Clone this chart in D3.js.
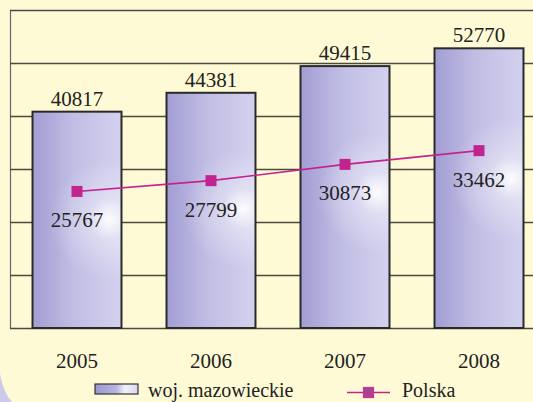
<!DOCTYPE html>
<html><head><meta charset="utf-8">
<script src="https://cdn.jsdelivr.net/npm/d3@7"></script>
<style>html,body{margin:0;padding:0;background:#FEFAD6;overflow:hidden}
svg text{font-family:"Liberation Serif","DejaVu Serif","Times New Roman",serif !important;}</style>
</head><body>
<svg id="c" width="533" height="402"></svg>
<script>
const years = ["2005","2006","2007","2008"];
const mazowieckie = [40817, 44381, 49415, 52770];
const polska = [25767, 27799, 30873, 33462];
const yTicks = [0, 10000, 20000, 30000, 40000, 50000, 60000];
const legendLabels = ["woj. mazowieckie", "Polska"];

const svg = d3.select("#c");
const W = 533, H = 402;
svg.append("rect").attr("width", W).attr("height", H).attr("fill", "#FEFAD6");
// decorative corner arc
svg.append("path").attr("d", "M0,374 Q3,392 12,402 L0,402 Z").attr("fill", "#cdc9ea");

const x = d3.scaleBand().domain(years).range([10, 546]).paddingInner(0.336).paddingOuter(0.168);
const y = d3.scaleLinear().domain([0, 60000]).range([328, 10]);

// grid
const grid = svg.append("g").call(d3.axisLeft(y).tickValues(yTicks).tickSize(-(W - 10)).tickFormat(""))
  .attr("transform", "translate(10,0)");
grid.select(".domain").attr("stroke", "#666").attr("stroke-width", 1.2);
grid.selectAll(".tick line").attr("stroke", "#4a4a40").attr("stroke-width", 1.3);

const defs = svg.append("defs");
const lin = defs.append("linearGradient").attr("id", "barLin").attr("x1", 0).attr("y1", 0).attr("x2", 1).attr("y2", 0);
lin.append("stop").attr("offset", "0%").attr("stop-color", "#a29dd3");
lin.append("stop").attr("offset", "45%").attr("stop-color", "#c0bde4");
lin.append("stop").attr("offset", "100%").attr("stop-color", "#d3d1ee");

years.forEach((yr, i) => {
  const cx = x(yr) + x.bandwidth() * 0.86, cy = y(polska[i]) + 28;
  const rg = defs.append("radialGradient").attr("id", "glow" + i).attr("gradientUnits", "userSpaceOnUse")
    .attr("cx", cx).attr("cy", cy).attr("r", 60);
  rg.append("stop").attr("offset", "0%").attr("stop-color", "#ffffff").attr("stop-opacity", 0.95);
  rg.append("stop").attr("offset", "35%").attr("stop-color", "#ffffff").attr("stop-opacity", 0.35);
  rg.append("stop").attr("offset", "100%").attr("stop-color", "#ffffff").attr("stop-opacity", 0);
});

const bars = svg.append("g");
bars.selectAll("rect.b").data(years).join("rect").attr("class", "b")
  .attr("x", d => x(d)).attr("y", (d, i) => y(mazowieckie[i]))
  .attr("width", x.bandwidth()).attr("height", (d, i) => y(0) - y(mazowieckie[i]))
  .attr("fill", "url(#barLin)");
bars.selectAll("rect.g").data(years).join("rect").attr("class", "g")
  .attr("x", d => x(d)).attr("y", (d, i) => y(mazowieckie[i]))
  .attr("width", x.bandwidth()).attr("height", (d, i) => y(0) - y(mazowieckie[i]))
  .attr("fill", (d, i) => `url(#glow${i})`);
bars.selectAll("rect.o").data(years).join("rect").attr("class", "o")
  .attr("x", d => x(d)).attr("y", (d, i) => y(mazowieckie[i]))
  .attr("width", x.bandwidth()).attr("height", (d, i) => y(0) - y(mazowieckie[i]))
  .attr("fill", "none").attr("stroke", "#2a2a2a").attr("stroke-width", 2);

// bar value labels
svg.selectAll("text.bv").data(years).join("text").attr("class", "bv")
  .attr("x", d => x(d) + x.bandwidth() / 2).attr("y", (d, i) => y(mazowieckie[i]) - 6)
  .attr("text-anchor", "middle").attr("font-size", 21).attr("fill", "#222")
  .text((d, i) => mazowieckie[i]);

// line
const line = d3.line().x((d, i) => x(years[i]) + x.bandwidth() / 2).y(d => y(d));
svg.append("path").datum(polska).attr("d", line).attr("fill", "none").attr("stroke", "#c4228f").attr("stroke-width", 1.6);
svg.selectAll("rect.m").data(polska).join("rect").attr("class", "m")
  .attr("x", (d, i) => x(years[i]) + x.bandwidth() / 2 - 5.5).attr("y", d => y(d) - 5.5)
  .attr("width", 11).attr("height", 11).attr("fill", "#c2248e");
svg.selectAll("text.pv").data(polska).join("text").attr("class", "pv")
  .attr("x", (d, i) => x(years[i]) + x.bandwidth() / 2).attr("y", d => y(d) + 36)
  .attr("text-anchor", "middle").attr("font-size", 21).attr("fill", "#222")
  .text(d => d);

// x axis labels
const xa = svg.append("g").attr("transform", "translate(0,368)")
  .call(d3.axisBottom(x).tickSize(0).tickPadding(0));
xa.select(".domain").remove();
xa.selectAll("text").attr("font-size", 21).attr("fill", "#222").attr("dy", 0);

// legend
const lg = defs.append("linearGradient").attr("id", "legG").attr("x1", 0).attr("x2", 1);
lg.append("stop").attr("offset", "0%").attr("stop-color", "#9c97d0");
lg.append("stop").attr("offset", "50%").attr("stop-color", "#b9b5e0");
lg.append("stop").attr("offset", "70%").attr("stop-color", "#f2f1fa");
lg.append("stop").attr("offset", "100%").attr("stop-color", "#d9d7ef");
svg.append("rect").attr("x", 95).attr("y", 384).attr("width", 43).attr("height", 10)
  .attr("fill", "url(#legG)").attr("stroke", "#333").attr("stroke-width", 1.2);
svg.append("text").attr("x", 148).attr("y", 397).attr("font-size", 20).attr("fill", "#222").text(legendLabels[0]);
svg.append("line").attr("x1", 347).attr("x2", 390).attr("y1", 392.5).attr("y2", 392.5).attr("stroke", "#c4228f").attr("stroke-width", 1.6);
svg.append("rect").attr("x", 363.5).attr("y", 387.5).attr("width", 10).attr("height", 10)
  .attr("fill", "#a4468f").attr("stroke", "#d0309a").attr("stroke-width", 1.2);
svg.append("text").attr("x", 402).attr("y", 397).attr("font-size", 20).attr("fill", "#222").text(legendLabels[1]);
</script>
</body></html>
